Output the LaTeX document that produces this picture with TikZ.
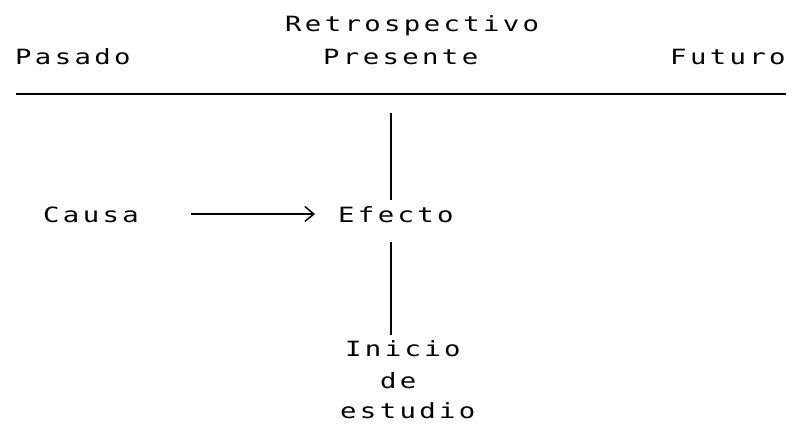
\documentclass[tikz,border=0pt]{standalone}
\usepackage{fontspec}
\newfontfamily\dotfont[FakeStretch=1.3,LetterSpace=16]{DejaVu Sans Mono}
\usetikzlibrary{arrows.meta}
\begin{document}
\begin{tikzpicture}[x=1pt,y=-1pt,
  lbl/.style={anchor=base west, inner sep=0pt, font=\dotfont\fontsize{21}{21}\selectfont},
  rule/.style={line width=1.5pt},
  conn/.style={line width=1.5pt, -{Straight Barb[length=9pt,width=15pt,line width=1.5pt]}}]
\useasboundingbox (0,0) rectangle (792,423);
\node[lbl] (retro) at (285,31) {Retrospectivo};
\node[lbl] (pasado) at (15,64) {Pasado};
\node[lbl] (presente) at (323,64) {Presente};
\node[lbl] (futuro) at (670,64) {Futuro};
\coordinate (hl) at (16,94);
\coordinate (hr) at (786,94);
\draw[rule] (hl) -- (hr);
\node[lbl] (causa) at (43,222) {Causa};
\node[lbl] (efecto) at (338,222) {Efecto};
\coordinate (a1) at (191,214);
\coordinate (a2) at (315,214);
\draw[conn] (a1) -- (a2);
\coordinate (v1) at (391,113);
\coordinate (v2) at (391,200);
\draw[rule] (v1) -- (v2);
\coordinate (v3) at (391,242);
\coordinate (v4) at (391,335);
\draw[rule] (v3) -- (v4);
\node[lbl] (inicio) at (345,356) {Inicio};
\node[lbl] (de) at (380,388) {de};
\node[lbl] (estudio) at (340,418) {estudio};
\end{tikzpicture}
\end{document}
